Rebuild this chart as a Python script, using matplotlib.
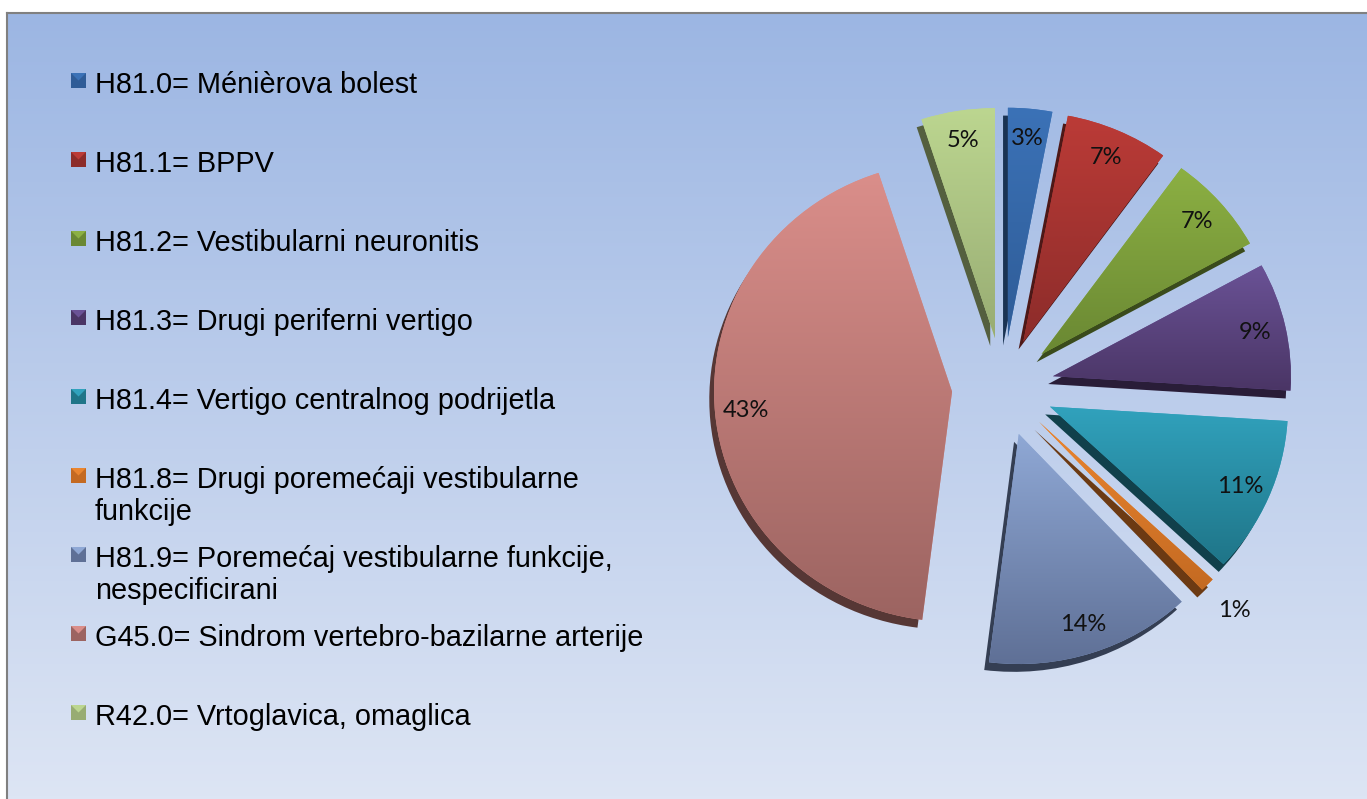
import numpy as np
import matplotlib.pyplot as plt
from matplotlib import colors as mcolors
from matplotlib.patches import Rectangle, Polygon, Wedge

plt.rcParams['font.family'] = ['Liberation Sans', 'DejaVu Sans']

codes = ['H81.0', 'H81.1', 'H81.2', 'H81.3', 'H81.4', 'H81.8', 'H81.9', 'G45.0', 'R42.0']
names = ['Ménièrova bolest', 'BPPV', 'Vestibularni neuronitis', 'Drugi periferni vertigo',
         'Vertigo centralnog podrijetla', 'Drugi poremećaji vestibularne\nfunkcije',
         'Poremećaj vestibularne funkcije,\nnespecificirani',
         'Sindrom vertebro-bazilarne arterije', 'Vrtoglavica, omaglica']
shares = [3, 7, 7, 9, 11, 1, 14, 43, 5]

light = ['#3b72b7', '#bb3b37', '#8cb043', '#6a5296', '#31a2bd', '#ea852f', '#8fa8d5', '#da8e8a', '#bcd690']
dark = ['#2f5c97', '#8c2c2a', '#6a8833', '#4a3565', '#1f7588', '#c46a22', '#5f7096', '#9c6461', '#98ac73']

W, H = 1367, 799
fig = plt.figure(figsize=(W / 100, H / 100), dpi=100)
fig.patch.set_facecolor('white')

# background panel with vertical gradient
bg = fig.add_axes([0, 0, 1, 1])
bg.set_xlim(0, W)
bg.set_ylim(H, 0)
bg.axis('off')
c_top = np.array(mcolors.to_rgb('#9cb6e3'))
c_bot = np.array(mcolors.to_rgb('#dde5f4'))
t = np.linspace(0, 1, 256)[:, None]
grad = c_top + (c_bot - c_top) * t
bg.imshow(grad[:, None, :], extent=(7, W, H, 13), aspect='auto', zorder=0)
bg.plot([7, 7], [H, 13], color='#808080', lw=1.5, zorder=1)
bg.plot([7, W], [13, 13], color='#808080', lw=1.5, zorder=1)

# legend
for i, (code, name) in enumerate(zip(codes, names)):
    y = 83 + 79 * i
    x0, s = 71, 15
    bg.add_patch(Rectangle((x0, y - 10), s, s, facecolor=dark[i], edgecolor='none', zorder=2))
    bg.add_patch(Polygon([(x0, y - 10), (x0 + s, y - 10), (x0 + s / 2, y - 2.5)],
                         facecolor=light[i], edgecolor='none', zorder=3))
    for k, line in enumerate(f'{code}= {name}'.split('\n')):
        bg.text(95, y + 10 + 32 * k, line, fontsize=20.8,
                va='baseline', ha='left', color='black', zorder=3)

# pie (slightly wider than tall, as in the original)
cx, cy, rx, ry = 1003, 387, 238, 230
half = 340
pax = fig.add_axes([(cx - half) / W, (H - cy - half) / H, 2 * half / W, 2 * half / H])
pax.axis('off')

wedges, _ = pax.pie(shares, explode=[0.215] * len(shares), radius=1, startangle=90,
                    counterclock=False, colors=light,
                    wedgeprops=dict(linewidth=0))

dx, dy = -0.02, -0.034
for i, w in enumerate(wedges):
    w.set_zorder(3)
    # side face for the 3D look
    side = Wedge((w.center[0] + dx, w.center[1] + dy), w.r, w.theta1, w.theta2,
                 facecolor=np.array(mcolors.to_rgb(dark[i])) * 0.55, edgecolor='none', zorder=2)
    pax.add_patch(side)
    # gradient fill clipped to the wedge
    ext = w.get_path().get_extents().transformed(w.get_patch_transform())
    c0 = np.array(mcolors.to_rgb(light[i]))
    c1 = np.array(mcolors.to_rgb(dark[i]))
    g = c0 + (c1 - c0) * t
    im = pax.imshow(g[:, None, :], extent=(ext.x0, ext.x1, ext.y0, ext.y1), aspect='auto', zorder=4)
    im.set_clip_path(w)
    # percent label
    mid = np.deg2rad((w.theta1 + w.theta2) / 2)
    dist = 0.87 if shares[i] >= 2 else 1.16
    lx = w.center[0] + dist * np.cos(mid)
    ly = w.center[1] + dist * np.sin(mid)
    pax.text(lx, ly, f'{shares[i]}%', ha='center', va='center', fontsize=17,
             family=['Lato', 'DejaVu Sans'], color='#111111', zorder=6)

pax.set_xlim(-half / rx, half / rx)
pax.set_ylim(-half / ry, half / ry)

fig.savefig('out.png', dpi=100)
